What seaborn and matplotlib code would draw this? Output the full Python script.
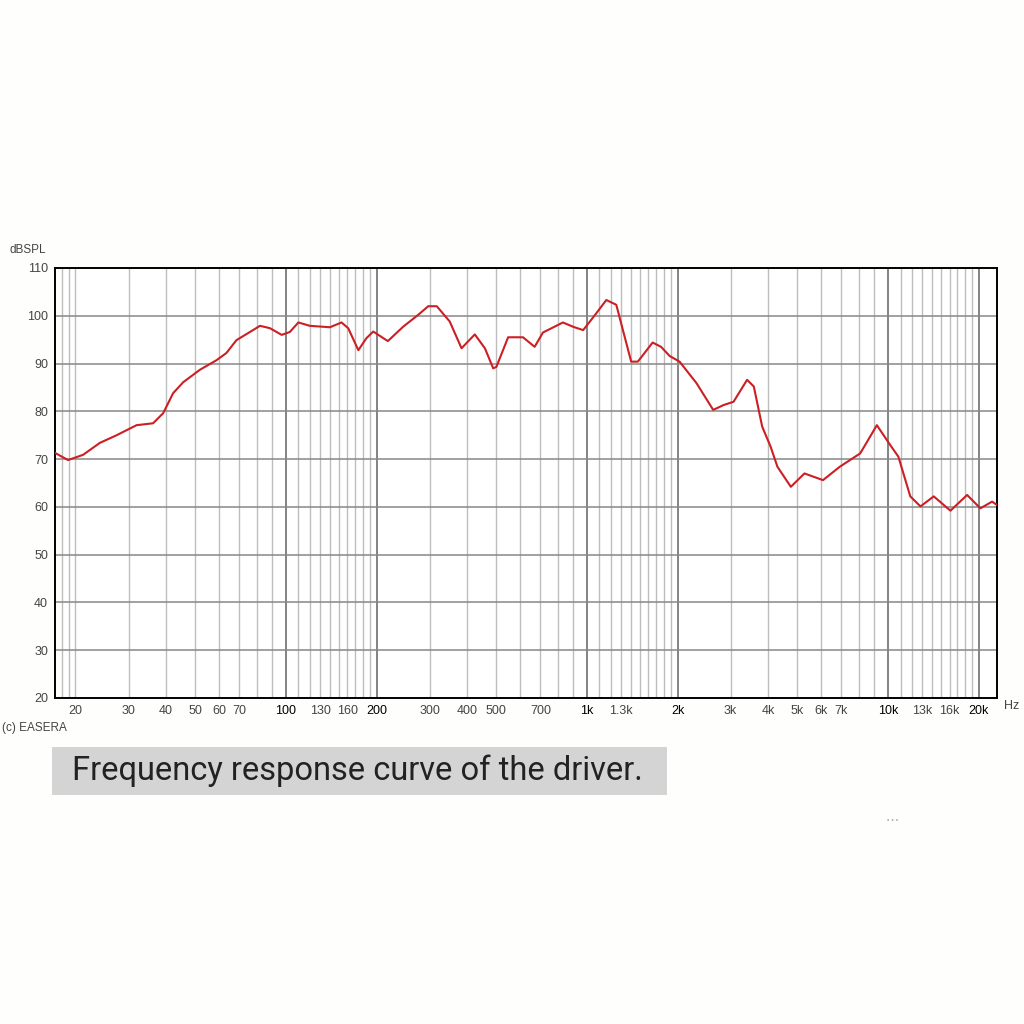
import numpy as np
import pandas as pd
import matplotlib
matplotlib.use("Agg")
import matplotlib.pyplot as plt
import seaborn as sns

# frequency response
freq = [17.1, 18.9, 21.2, 24.1, 27.4, 31.9, 36.2, 39.1, 42.2, 45.6, 51.8, 58.8,
        63.4, 68.5, 75.9, 82, 88.5, 96.8, 103, 110, 120, 140, 153, 161, 174,
        185, 195, 218, 245, 275, 297, 317, 350, 383, 424, 458, 488, 500, 547,
        613, 670, 714, 832, 899, 971, 1073, 1159, 1251, 1316, 1402, 1475, 1652,
        1762, 1880, 2030, 2310, 2625, 2838, 3067, 3402, 3581, 3818, 4072, 4290,
        4753, 5274, 6078, 6910, 8080, 9177, 10150, 10820, 11850, 12810, 14180,
        16110, 18300, 20250, 22150, 23000]
spl = [71.3, 69.8, 70.9, 73.4, 75.0, 77.1, 77.5, 79.6, 83.8, 86.1, 88.7, 90.7,
       92.2, 94.9, 96.6, 97.9, 97.4, 96.0, 96.6, 98.6, 97.9, 97.6, 98.6, 97.4,
       92.8, 95.3, 96.7, 94.7, 97.7, 100.2, 102.0, 102.0, 98.8, 93.2, 96.1,
       93.2, 89.0, 89.3, 95.5, 95.5, 93.5, 96.5, 98.6, 97.7, 97.0, 100.5,
       103.3, 102.3, 97.0, 90.4, 90.4, 94.4, 93.5, 91.6, 90.4, 85.9, 80.3,
       81.3, 82.0, 86.6, 85.2, 76.8, 72.6, 68.4, 64.2, 67.0, 65.6, 68.4, 71.2,
       77.1, 73.0, 70.5, 62.2, 60.1, 62.2, 59.2, 62.5, 59.7, 61.1, 60.4]

x_ticks = [20, 30, 40, 50, 60, 70, 100, 130, 160, 200, 300, 400, 500, 700,
           1000, 1300, 2000, 3000, 4000, 5000, 6000, 7000, 10000, 13000, 16000, 20000]
x_labels = ["20", "30", "40", "50", "60", "70", "100", "130", "160", "200", "300",
            "400", "500", "700", "1k", "1.3k", "2k", "3k", "4k", "5k", "6k", "7k",
            "10k", "13k", "16k", "20k"]
bold_labels = ["100", "200", "1k", "2k", "10k", "20k"]
y_ticks = [20, 30, 40, 50, 60, 70, 80, 90, 100, 110]

df = pd.DataFrame({"freq": freq, "spl": spl})

sns.set_style("white")
plt.rcParams["font.family"] = ["Liberation Sans", "DejaVu Sans"]

fig = plt.figure(figsize=(10.24, 10.24), dpi=100)
fig.patch.set_facecolor("#fefefc")
ax = fig.add_axes([55 / 1024, 1 - 698 / 1024, 942 / 1024, 430 / 1024])
ax.set_facecolor("white")

# grid: log minors plus the finer 1.1..1.9 steps EASERA draws
grid_f = []
for dec in [10, 100, 1000, 10000]:
    for m in [1.1, 1.2, 1.3, 1.4, 1.5, 1.6, 1.7, 1.8, 1.9, 2, 3, 4, 5, 6, 7, 8, 9]:
        grid_f.append(dec * m)
grid_f += [100, 1000, 10000]
dark = [100, 200, 1000, 2000, 10000, 20000]
for f in grid_f:
    if 17.1 < f < 23000:
        strong = any(abs(f - d) < 1e-6 for d in dark)
        ax.axvline(f, color="#6e6e6e" if strong else "#bdbdbd",
                   lw=1.2 if strong else 1.0, zorder=1)
for y in y_ticks[1:-1]:
    ax.axhline(y, color="#888888", lw=1.1, zorder=1)

sns.lineplot(data=df, x="freq", y="spl", ax=ax, color="#cc1f24", lw=1.5, zorder=3)

ax.set_xscale("log")
ax.set_xlim(17.1, 23000)
ax.set_ylim(20, 110)
ax.set_xlabel("")
ax.set_ylabel("")
ax.set_xticks(x_ticks)
ax.set_xticklabels(x_labels)
ax.xaxis.set_minor_locator(matplotlib.ticker.NullLocator())
ax.set_yticks(y_ticks)
ax.tick_params(axis="both", length=0, labelsize=9, colors="#444444", pad=5)
for lab in ax.get_xticklabels():
    if lab.get_text() in bold_labels:
        lab.set_color("black")
for s in ax.spines.values():
    s.set_color("black")
    s.set_linewidth(1.4)

fig.text(10 / 1024, 1 - 250 / 1024, "dBSPL", fontsize=8.5, color="#444444", va="center")
fig.text(1012 / 1024, 1 - 706 / 1024, "Hz", fontsize=9, color="#444444", va="center", ha="center")
fig.text(2 / 1024, 1 - 728 / 1024, "(c) EASERA", fontsize=8.5, color="#444444", va="center")
fig.text(893 / 1024, 1 - 820 / 1024, "• • •", fontsize=5, color="#b0b0b0", va="center", ha="center")

# caption box
fig.patches.append(matplotlib.patches.Rectangle(
    (52 / 1024, 1 - 795 / 1024), 615 / 1024, 48 / 1024,
    transform=fig.transFigure, facecolor="#d4d4d4", edgecolor="none"))
fig.text(72 / 1024, 1 - 771 / 1024, "Frequency response curve of the driver.",
         fontsize=23.5, color="#222222", va="center", ha="left", family=["Roboto", "DejaVu Sans"])

fig.savefig("out.png", dpi=100, facecolor=fig.get_facecolor())
